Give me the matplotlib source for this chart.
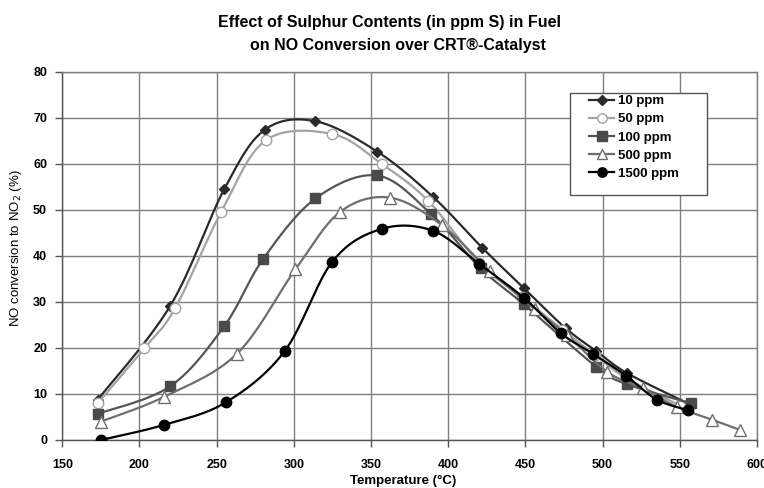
import numpy as np
import matplotlib
matplotlib.use("Agg")
import matplotlib.pyplot as plt
from matplotlib.patches import Rectangle

plt.rcParams['font.family'] = ['Liberation Sans', 'DejaVu Sans']

# ---- data ----
series_labels = ["10 ppm", "50 ppm", "100 ppm", "500 ppm", "1500 ppm"]

t10 = [173, 220, 255, 281, 314, 354, 390, 422, 449, 476, 496, 516, 555]
v10 = [8.8, 29.2, 54.6, 67.4, 69.3, 62.7, 52.9, 41.8, 33.0, 24.3, 19.3, 14.5, 8.0]

t50 = [173, 203, 223, 253, 282, 325, 357, 387, 420, 448, 474, 495, 515, 550]
v50 = [8.0, 19.9, 28.6, 49.6, 65.2, 66.5, 60.0, 52.0, 38.5, 31.0, 24.0, 18.5, 13.5, 7.5]

t100 = [173, 220, 255, 280, 314, 354, 389, 421, 449, 496, 516, 557]
v100 = [5.7, 11.7, 24.8, 39.3, 52.5, 57.5, 49.1, 37.3, 29.5, 15.9, 12.1, 8.0]

t500 = [175, 216, 263, 301, 330, 362, 396, 427, 456, 477, 503, 526, 548, 571, 589]
v500 = [4.0, 9.4, 18.7, 37.1, 49.6, 52.7, 46.7, 36.7, 28.5, 22.8, 14.8, 11.2, 7.2, 4.4, 2.2]

t1500 = [175, 216, 256, 294, 325, 357, 390, 420, 449, 473, 494, 515, 535, 555]
v1500 = [0.0, 3.3, 8.2, 19.3, 38.8, 45.9, 45.5, 38.3, 30.9, 23.2, 18.7, 14.0, 8.8, 6.5]

x_ticks = [150, 200, 250, 300, 350, 400, 450, 500, 550, 600]
y_ticks = [0, 10, 20, 30, 40, 50, 60, 70, 80]

title_line1 = "Effect of Sulphur Contents (in ppm S) in Fuel"
title_line2 = "on NO Conversion over CRT\u00ae-Catalyst"
x_label = "Temperature (\u00b0C)"
y_label = "NO conversion to NO$_2$ (%)"

# ---- figure ----
W, H = 764, 488
fig = plt.figure(figsize=(W / 100, H / 100), dpi=100)
ax_l, ax_r, ax_t, ax_b = 62.3, 757.0, 72.0, 440.0
ax = fig.add_axes([ax_l / W, 1 - ax_b / H, (ax_r - ax_l) / W, (ax_b - ax_t) / H])
ax.set_xlim(150, 600)
ax.set_ylim(0, 80)

sx = (ax_r - ax_l) / 450.0
sy = (ax_b - ax_t) / 80.0


def smooth(xs, ys, n=30):
    """Excel-like smoothed line (Catmull-Rom Bezier) computed in screen space."""
    P = np.column_stack([(np.asarray(xs, float) - 150) * sx, np.asarray(ys, float) * sy])
    out = [P[0]]
    m = len(P)
    tt = np.linspace(0, 1, n)[1:]
    for i in range(m - 1):
        p0 = P[i - 1] if i > 0 else P[i]
        p1 = P[i]
        p2 = P[i + 1]
        p3 = P[i + 2] if i + 2 < m else P[i + 1]
        c1 = p1 + (p2 - p0) / 6.0
        c2 = p2 - (p3 - p1) / 6.0
        for t in tt:
            b = ((1 - t) ** 3) * p1 + 3 * ((1 - t) ** 2) * t * c1 + 3 * (1 - t) * t ** 2 * c2 + t ** 3 * p2
            out.append(b)
    out = np.array(out)
    return out[:, 0] / sx + 150, out[:, 1] / sy


styles = [
    dict(color="#2a2a2a", marker="D", ms=5.5, mfc="#2a2a2a", mec="#2a2a2a", mew=1.0),
    dict(color="#a3a3a3", marker="o", ms=7.5, mfc="white", mec="#a3a3a3", mew=1.0),
    dict(color="#555555", marker="s", ms=7.5, mfc="#4a4a4a", mec="#4a4a4a", mew=1.0),
    dict(color="#6e6e6e", marker="^", ms=8.5, mfc="white", mec="#6e6e6e", mew=1.0),
    dict(color="#000000", marker="o", ms=7.5, mfc="#000000", mec="#000000", mew=1.0),
]
all_t = [t10, t50, t100, t500, t1500]
all_v = [v10, v50, v100, v500, v1500]

handles = []
for k, (ts, vs, st, lab) in enumerate(zip(all_t, all_v, styles, series_labels)):
    xs, ys = smooth(ts, vs)
    ax.plot(xs, ys, color=st["color"], lw=1.6, zorder=3 + k * 0.1, solid_capstyle="round")
    ax.plot(ts, vs, linestyle="none", marker=st["marker"], ms=st["ms"], mfc=st["mfc"],
            mec=st["mec"], mew=st["mew"], zorder=3.05 + k * 0.1)
    h, = ax.plot([], [], color=st["color"], lw=1.6, marker=st["marker"], ms=st["ms"] * 0.9,
                 mfc=st["mfc"], mec=st["mec"], mew=st["mew"], label=lab)
    handles.append(h)

# grid / axes styling
ax.set_xticks(x_ticks)
ax.set_yticks(y_ticks)
ax.grid(True, color="#7f7f7f", lw=1.0, zorder=0)
ax.set_axisbelow(True)
for s in ["top", "right"]:
    ax.spines[s].set_color("#7f7f7f")
    ax.spines[s].set_linewidth(1.0)
for s in ["left", "bottom"]:
    ax.spines[s].set_color("#555555")
    ax.spines[s].set_linewidth(1.0)
ax.tick_params(axis="both", direction="out", length=5, width=1, color="#555555",
               labelsize=9, pad=6)
ax.tick_params(axis="x", pad=9)
for lbl in ax.get_xticklabels() + ax.get_yticklabels():
    lbl.set_fontweight("bold")

ax.set_xlabel(x_label, fontsize=9.5, fontweight="bold")
ax.xaxis.set_label_coords((403 - ax_l) / (ax_r - ax_l), (ax_b - 475) / (ax_b - ax_t))
ax.set_ylabel(y_label, fontsize=9.5)
ax.yaxis.set_label_coords((24 - ax_l) / (ax_r - ax_l), (ax_b - 248) / (ax_b - ax_t))

# legend box (drawn as rectangle) and legend entries
bx0 = (570 - ax_l) / (ax_r - ax_l)
bx1 = (707 - ax_l) / (ax_r - ax_l)
by1 = (ax_b - 93) / (ax_b - ax_t)
by0 = (ax_b - 195) / (ax_b - ax_t)
ax.add_patch(Rectangle((bx0, by0), bx1 - bx0, by1 - by0, transform=ax.transAxes,
                       facecolor="white", edgecolor="#555555", lw=1.0, zorder=8))
leg = ax.legend(handles=handles, loc="upper left",
                bbox_to_anchor=((589 - ax_l) / (ax_r - ax_l), (ax_b - 95) / (ax_b - ax_t)),
                frameon=False, borderaxespad=0, borderpad=0, handlelength=1.9,
                handletextpad=0.3, labelspacing=0.45, prop=dict(size=9.5, weight="bold"))
leg.set_zorder(9)

# title
fig.text(390 / W, 1 - 23 / H, title_line1, ha="center", va="center", fontsize=11.5,
         fontweight="bold")
fig.text(398 / W, 1 - 46 / H, title_line2, ha="center", va="center", fontsize=11.5,
         fontweight="bold")

fig.savefig("out.png", dpi=100)
